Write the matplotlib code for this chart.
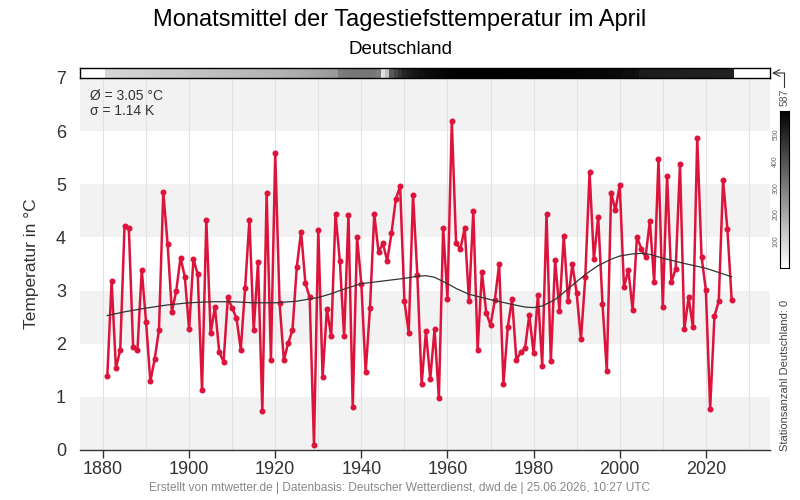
import numpy as np
import matplotlib
matplotlib.use("Agg")
import matplotlib.pyplot as plt
from matplotlib.colors import LinearSegmentedColormap
from matplotlib.lines import Line2D

plt.rcParams['font.family'] = ['Liberation Sans', 'DejaVu Sans']

years = np.arange(1881, 2027)
temps = [
    1.39, 3.18, 1.54, 1.88, 4.21, 4.18, 1.93, 1.88, 3.39, 2.41,
    1.29, 1.71, 2.26, 4.86, 3.88, 2.60, 2.99, 3.62, 3.26, 2.27,
    3.59, 3.31, 1.12, 4.33, 2.20, 2.69, 1.84, 1.66, 2.87, 2.67,
    2.48, 1.89, 3.04, 4.33, 2.25, 3.54, 0.73, 4.83, 1.69, 5.59,
    2.77, 1.69, 2.01, 2.25, 3.44, 4.11, 3.14, 2.87, 0.09, 4.14,
    1.37, 2.65, 2.14, 4.44, 3.56, 2.14, 4.42, 0.80, 4.01, 3.12,
    1.46, 2.67, 4.44, 3.72, 3.89, 3.56, 4.08, 4.72, 4.96, 2.80,
    2.21, 4.80, 3.30, 1.24, 2.23, 1.34, 2.27, 0.97, 4.18, 2.84,
    6.19, 3.89, 3.78, 4.18, 2.80, 4.50, 1.89, 3.35, 2.58, 2.35,
    2.82, 3.50, 1.25, 2.31, 2.84, 1.69, 1.84, 1.91, 2.54, 1.82,
    2.92, 1.59, 4.44, 1.67, 3.58, 2.62, 4.03, 2.81, 3.50, 2.95,
    2.08, 3.25, 5.23, 3.59, 4.38, 2.75, 1.48, 4.84, 4.51, 4.99,
    3.06, 3.39, 2.63, 4.01, 3.79, 3.63, 4.31, 3.16, 5.48, 2.70,
    5.16, 3.16, 3.41, 5.39, 2.27, 2.87, 2.31, 5.87, 3.64, 3.01,
    0.77, 2.52, 2.80, 5.08, 4.16, 2.82,
]

trend_years = [1881, 1885, 1890, 1895, 1900, 1905, 1910, 1915, 1920, 1925,
               1930, 1933, 1935, 1938, 1940, 1943, 1945, 1948, 1950, 1953,
               1955, 1957, 1960, 1962, 1965, 1970, 1975, 1978, 1980, 1982,
               1985, 1988, 1990, 1993, 1995, 1998, 2000, 2003, 2005, 2007,
               2010, 2015, 2020, 2026]
trend_vals = [2.53, 2.60, 2.67, 2.73, 2.77, 2.79, 2.79, 2.77, 2.77, 2.80,
              2.87, 2.94, 3.00, 3.08, 3.13, 3.16, 3.18, 3.21, 3.23, 3.27,
              3.28, 3.25, 3.13, 3.04, 2.93, 2.83, 2.74, 2.69, 2.68, 2.71,
              2.83, 3.03, 3.17, 3.36, 3.47, 3.59, 3.65, 3.69, 3.70, 3.68,
              3.61, 3.51, 3.42, 3.26]

stations = [
    95, 97, 100, 102, 104, 106, 108, 110, 112, 114,
    116, 118, 120, 122, 124, 126, 128, 130, 132, 134,
    136, 138, 140, 142, 144, 146, 148, 150, 152, 154,
    156, 158, 160, 162, 164, 166, 168, 170, 172, 174,
    176, 180, 184, 188, 192, 196, 200, 205, 210, 215,
    220, 225, 230, 235, 300, 305, 310, 315, 315, 315,
    315, 315, 310, 300, 70, 140, 380, 430, 470, 500,
    520, 530, 540, 550, 555, 560, 565, 570, 575, 580,
    582, 584, 585, 586, 587, 587, 587, 587, 586, 585,
    585, 585, 584, 584, 583, 583, 582, 582, 581, 580,
    580, 580, 579, 579, 578, 578, 577, 577, 576, 575,
    575, 574, 573, 572, 571, 570, 568, 566, 564, 562,
    555, 555, 555, 550, 525, 522, 520, 520, 518, 518,
    517, 517, 516, 516, 515, 515, 514, 514, 513, 513,
    512, 512, 511, 511, 510, 510,
]
station_max = 587

W, H = 800, 500
fig = plt.figure(figsize=(8, 5), dpi=100)

def fx(px):
    return px / W

def fy(py):
    return 1 - py / H

xlim = (1874.66, 2034.9)

# main axes
ax = fig.add_axes([fx(80), fy(450), 690 / W, 372 / H])
ax.set_xlim(*xlim)
ax.set_ylim(0, 7)
for k in range(0, 7, 2):
    ax.axhspan(k, k + 1, color='#f2f2f2', lw=0, zorder=0)
for xv in range(1880, 2031, 10):
    ax.axvline(xv, color='#e2e2e2', lw=0.8, zorder=0.5)
ax.plot(years, temps, color='#dc143c', lw=1.8, marker='o', ms=3.3,
        zorder=3, solid_joinstyle='round')
ax.plot(trend_years, trend_vals, color='#333333', lw=0.9, zorder=4,
        solid_joinstyle='round')

ax.set_xticks(range(1880, 2021, 20))
ax.set_yticks(range(8))
ax.tick_params(axis='x', length=6, width=1, labelsize=13, labelcolor='#333333',
               color='#333333', pad=2)
ax.tick_params(axis='y', length=0, labelsize=13, labelcolor='#333333', pad=10)
for s in ['left', 'top', 'right']:
    ax.spines[s].set_visible(False)
ax.spines['bottom'].set_color('#333333')
ax.spines['bottom'].set_linewidth(1)
ax.set_ylabel('Temperatur in °C', fontsize=12.5, color='#333333', labelpad=12)

# station strip
cmap = LinearSegmentedColormap.from_list('wb', ['#ffffff', '#000000'])
ax2 = fig.add_axes([fx(80), fy(78), 690 / W, 10 / H])
edges = np.append(years - 0.5, years[-1] + 0.5)
ax2.pcolormesh(edges, [0, 1], np.array(stations)[None, :], cmap=cmap,
               vmin=0, vmax=station_max)
ax2.set_xlim(*xlim)
ax2.set_ylim(0, 1)
ax2.set_xticks([])
ax2.set_yticks([])
for s in ax2.spines.values():
    s.set_linewidth(1)
    s.set_color('black')

# colorbar
ax3 = fig.add_axes([fx(780), fy(268), 9 / W, 157 / H])
grad = np.linspace(0, station_max, 256)[:, None]
ax3.imshow(grad, cmap=cmap, aspect='auto', origin='lower',
           extent=[0, 1, 0, station_max], vmin=0, vmax=station_max)
ax3.set_xticks([])
ax3.set_yticks([100, 200, 300, 400, 500])
ax3.set_yticklabels(['100', '200', '300', '400', '500'], rotation=90,
                    va='center', fontsize=5, color='#666666')
ax3.tick_params(axis='y', length=0, pad=0.5)
for s in ax3.spines.values():
    s.set_linewidth(0.8)
    s.set_color('black')
fig.text(fx(785), fy(97), '587', rotation=90, ha='center', va='center',
         fontsize=7.5, color='#555555')
fig.text(fx(785), fy(375), 'Stationsanzahl Deutschland: 0', rotation=90,
         ha='center', va='center', fontsize=8, color='#444444')

# arrow connector
fig.add_artist(Line2D([fx(784), fx(784)], [fy(87), fy(73)], transform=fig.transFigure,
                      color='#333333', lw=0.8))
ax.annotate('', xy=(fx(772), fy(73)), xytext=(fx(784.4), fy(73)),
            xycoords='figure fraction', textcoords='figure fraction',
            arrowprops=dict(arrowstyle='->', color='#333333', lw=0.8,
                            shrinkA=0, shrinkB=0, mutation_scale=12))

# texts
fig.text(0.5, fy(20), 'Monatsmittel der Tagestiefsttemperatur im April',
         ha='center', va='center', fontsize=17, color='black')
fig.text(0.5, fy(50), 'Deutschland', ha='center', va='center', fontsize=13.5,
         color='black')
fig.text(0.5, fy(488), 'Erstellt von mtwetter.de | Datenbasis: Deutscher Wetterdienst, '
         'dwd.de | 25.06.2026, 10:27 UTC', ha='center', va='center', fontsize=8.55,
         color='#888888')
fig.text(fx(90), fy(96), 'Ø = 3.05 °C', ha='left', va='center', fontsize=10,
         color='#333333')
fig.text(fx(90), fy(111), 'σ = 1.14 K', ha='left', va='center', fontsize=10,
         color='#333333')

fig.savefig('out.png', dpi=100)
